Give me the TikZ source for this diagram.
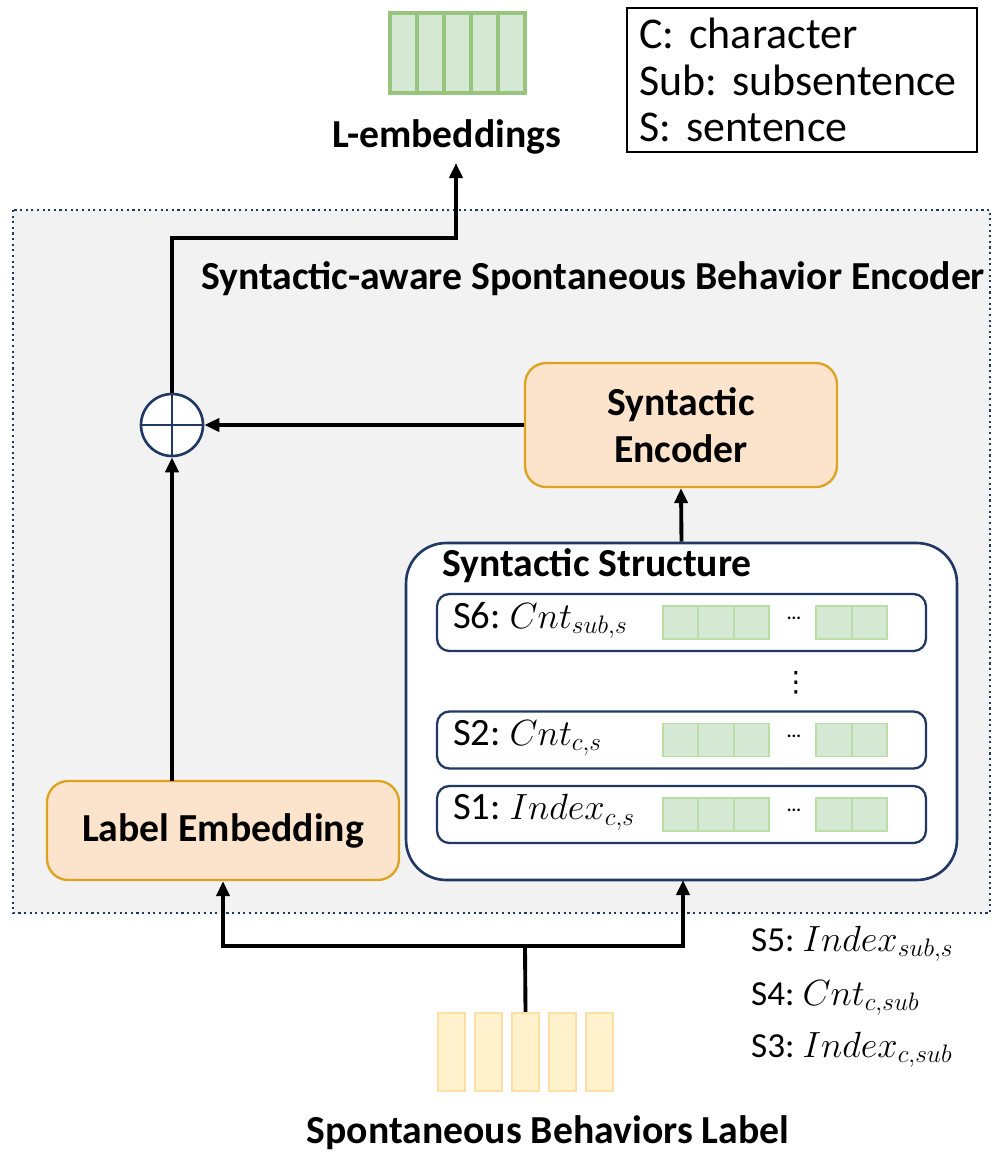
\documentclass[tikz,border=0pt]{standalone}
\usepackage{fontspec}
\setmainfont{Carlito}
\newfontfamily\symfont{DejaVu Sans}
\usepackage{tikz}
\usetikzlibrary{positioning,arrows.meta}
\frenchspacing
\definecolor{navy}{HTML}{203864}
\definecolor{peach}{HTML}{FCE4CC}
\definecolor{gold}{HTML}{DDA31E}
\definecolor{encbg}{HTML}{F2F2F2}
\definecolor{cellfill}{HTML}{D5E8D4}
\definecolor{celldraw}{HTML}{B9DFA5}
\definecolor{embdraw}{HTML}{97C57E}
\definecolor{barfill}{HTML}{FFF2CC}
\definecolor{bardraw}{HTML}{FDDFA6}
\tikzset{
    block/.style = {draw=gold,
                    fill=peach,
                    line width=1.3pt,
                    rounded corners=12pt,
                    align=center,
                    font=\fontsize{22.6}{27}\selectfont\bfseries
    },
    row/.style = {draw=navy,
                  fill=white,
                  line width=1.3pt,
                  rounded corners=7pt,
                  minimum width=9.78cm,
                  minimum height=1.14cm
    },
    cell/.style = {draw=celldraw, fill=cellfill, line width=1pt,
                   minimum width=0.71cm, minimum height=0.66cm, inner sep=0pt},
    arr/.style = {line width=2.2pt, -{Triangle[length=0.3cm,width=0.26cm]}},
    title/.style = {font=\fontsize{22.6}{27}\selectfont\bfseries}
}

\begin{document}
\begin{tikzpicture}[x=0.02cm, y=-0.02cm]
    \useasboundingbox (0,0) rectangle (997,1161);

    % encoder region
    \draw[navy, fill=encbg, line width=1.2pt, dotted] (13,210) rectangle (990,913);
    \node [title] (enctitle) at (593,279) {Syntactic-aware Spontaneous Behavior Encoder};

    % output embeddings
    \foreach \i in {0,...,4}
        \node [draw=embdraw, fill=cellfill, line width=1.8pt, inner sep=0pt,
               minimum width=0.54cm, minimum height=1.6cm] (out\i) at (403.5+27*\i,53) {};
    \node [title] (lemb) at (447,137) {L-embeddings};

    % legend
    \node [draw, line width=1pt, minimum width=7cm, minimum height=2.88cm,
           text width=6.5cm, align=left, inner xsep=0.25cm,
           font=\fontsize{25}{26.5}\selectfont] (legend) at (802,80)
          {C: character\\Sub: subsentence\\S: sentence};

    % blocks
    \node [block, minimum width=6.24cm, minimum height=2.48cm] (synenc) at (681,425) {Syntactic\\Encoder};
    \node [block, minimum width=7.04cm, minimum height=1.98cm] (labemb) at (223,830.5) {Label Embedding};
    \node [draw=navy, fill=white, line width=1.5pt, circle, minimum size=1.24cm, inner sep=0pt] (plus) at (172,425) {};
    \draw [navy, line width=1.5pt] (plus.north) -- (plus.south) (plus.west) -- (plus.east);

    % syntactic structure
    \node [draw=navy, fill=white, line width=1.5pt, rounded corners=0.8cm,
           minimum width=11.02cm, minimum height=6.74cm] (struct) at (681.5,711.5) {};
    \node [title, anchor=west] (structtitle) at (436,566) {Syntactic Structure};
    \foreach \y/\n/\lab in {622.5/six/{S6: $Cnt_{sub,s}$},
                            740/two/{S2: $Cnt_{c,s}$},
                            814.5/one/{S1: $Index_{c,s}$}} {
        \node [row] (\n) at (681.5,\y) {};
        \node [anchor=west, font=\fontsize{22}{26}\selectfont] at (447,\y-2) {\lab};
        \foreach \i in {0,1,2}
            \node [cell] at (680.5+35.5*\i,\y) {};
        \foreach \i in {0,1}
            \node [cell] at (834+35.5*\i,\y) {};
        \node [font=\bfseries] at (794,\y-4) {...};
    }
    \node [font=\symfont\fontsize{16}{16}\selectfont, inner sep=0pt] (vdots) at (796,683) {⋮};

    % input labels
    \foreach \i in {1,...,5}
        \node [draw=bardraw, fill=barfill, line width=1.4pt, inner sep=0pt,
               minimum width=0.54cm, minimum height=1.56cm] (bar\i) at (414.5+37*\i,1052) {};
    \node [title] (inlab) at (548,1133) {Spontaneous Behaviors Label};

    % extra syntactic features
    \foreach \y/\lab in {944/{S5: $Index_{sub,s}$}, 998/{S4: $Cnt_{c,sub}$}, 1050/{S3: $Index_{c,sub}$}}
        \node [anchor=west, font=\fontsize{20}{24}\selectfont] at (745,\y) {\lab};

    % connections
    \draw [line width=2.2pt] (bar3.north) -- (525,946) coordinate (split);
    \draw [arr] (split) -| (labemb.south);
    \draw [arr] (split) -| (683,880);
    \draw [arr] (struct.north) -- (synenc.south);
    \draw [arr] (synenc.west) -- (plus.east);
    \draw [arr] (172,781) -- (plus.south);
    \draw [arr] (plus.north) |- (456,238) -- (456,163);
\end{tikzpicture}
\end{document}
